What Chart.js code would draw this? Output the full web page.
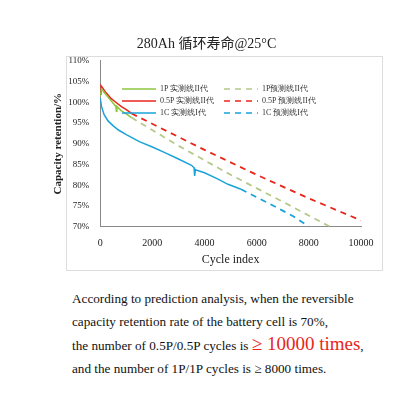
<!DOCTYPE html>
<html><head><meta charset="utf-8">
<script src="https://cdn.jsdelivr.net/npm/chart.js@4"></script>
<style>
body{margin:0;background:#fff;width:420px;height:420px;overflow:hidden}
#wrap{position:absolute;left:0;top:0;width:420px;height:275px}
#txt{position:absolute;left:72px;top:288px;width:345px;font-family:"Liberation Serif",serif;font-size:13.2px;line-height:22.5px;color:#111}
#txt .big{color:#e8261c;font-size:19px}
</style></head><body>
<div id="wrap"><canvas id="c"></canvas></div>
<div id="txt">According to prediction analysis, when the reversible<br>capacity retention rate of the battery cell is 70%,<br>the number of 0.5P/0.5P cycles is <span class="big">≥ 10000 times</span>,<br>and the number of 1P/1P cycles is ≥ 8000 times.</div>
<script>
// datos
const green = [[0,101.5],[50,103.2],[200,102],[400,100.5],[600,99],[620,97.8],[640,99],[800,98],[1000,97.2],[1200,96.3]];
const greenPred = [[1200,96.3],[3000,89.5],[5000,82.5],[7000,76],[8800,70]];
const red = [[0,102],[30,104],[200,102.5],[400,101],[600,100],[800,99],[1000,98.2],[1200,97.3]];
const redPred = [[1200,97.3],[4000,88.5],[6000,82.5],[8000,76.8],[10000,71.5]];
const blue = [[0,101],[50,99],[150,97],[300,95.5],[500,94.3],[700,93.3],[1000,92.2],[1500,90.5],[2000,89.2],[2500,87.8],[3000,86.3],[3500,84.8],[3600,84.2],[3620,82.2],[3650,83.7],[4000,83],[4500,81.5],[4900,80.2],[5400,79]];
const bluePred = [[5400,79],[6500,75.5],[7400,72.5],[8000,70]];
const yTicks = [70,75,80,85,90,95,100,105,110];
const legendItems = [
  ['1P 实测线II代','#8dc63f',false],['1P预测线II代','#b5c98a',true],
  ['0.5P 实测线II代','#e8261c',false],['0.5P 预测线II代','#e8261c',true],
  ['1C 实测线I代','#1aa3d9',false],['1C 预测线I代','#1aa3d9',true]];

const pts = a => a.map(p => ({x:p[0], y:p[1]}));
const ds = (d,c,dash) => ({data:pts(d),borderColor:c,borderWidth:dash?1.8:1.5,borderDash:dash?[6,5]:[],pointRadius:0,tension:0});

const legendPlugin = {
  id:'leg',
  afterDraw(chart){
    const ctx = chart.ctx;
    ctx.save();
    ctx.font = '8px "Liberation Serif", serif';
    ctx.fillStyle = '#333';
    ctx.textBaseline = 'middle';
    legendItems.forEach((it,i) => {
      const col = i % 2, row = Math.floor(i/2);
      const x = col ? 262 : 160, y = 89 + row*12;
      ctx.strokeStyle = it[1]; ctx.lineWidth = 1.6;
      ctx.setLineDash(it[2] ? [6,5] : []);
      ctx.beginPath(); ctx.moveTo(x-38,y); ctx.lineTo(x-4,y); ctx.stroke();
      ctx.fillText(it[0], x, y);
    });
    ctx.setLineDash([]);
    ctx.strokeStyle = '#ddd'; ctx.lineWidth = 1;
    ctx.strokeRect(66.5,56.5,316,214);
    ctx.restore();
  }
};

new Chart(document.getElementById('c'), {
  type:'line',
  data:{datasets:[ds(greenPred,'#b5c98a',true),ds(redPred,'#e8261c',true),ds(bluePred,'#1aa3d9',true),
    ds(green,'#8dc63f',false),ds(red,'#e8261c',false),ds(blue,'#1aa3d9',false)]},
  options:{
    responsive:true,maintainAspectRatio:false,animation:false,
    layout:{padding:{left:52,right:59,top:36,bottom:8}},
    plugins:{legend:{display:false},tooltip:{enabled:false},
      title:{display:true,text:'280Ah 循环寿命@25°C',color:'#222',font:{family:'"Liberation Serif", "Noto Sans CJK SC", serif',size:14,weight:'normal'},padding:{top:0,bottom:8}}},
    scales:{
      x:{type:'linear',min:0,max:10000,
        ticks:{stepSize:2000,color:'#222',callback:v => String(v),font:{family:'"Liberation Serif", serif',size:10}},
        grid:{display:false},border:{color:'#888'},
        title:{display:true,text:'Cycle index',color:'#222',padding:0,font:{family:'"Liberation Serif", serif',size:12}}},
      y:{min:70,max:110,
        afterBuildTicks(ax){ax.ticks = yTicks.map(v => ({value:v}));},
        ticks:{color:'#222',callback:v => v + '%',font:{family:'"Liberation Serif", serif',size:9}},
        grid:{display:false},border:{color:'#888'},
        title:{display:true,text:'Capacity retention/%',color:'#222',padding:0,font:{family:'"Liberation Serif", serif',size:11,weight:'bold'}}}
    }
  },
  plugins:[legendPlugin]
});
</script></body></html>
